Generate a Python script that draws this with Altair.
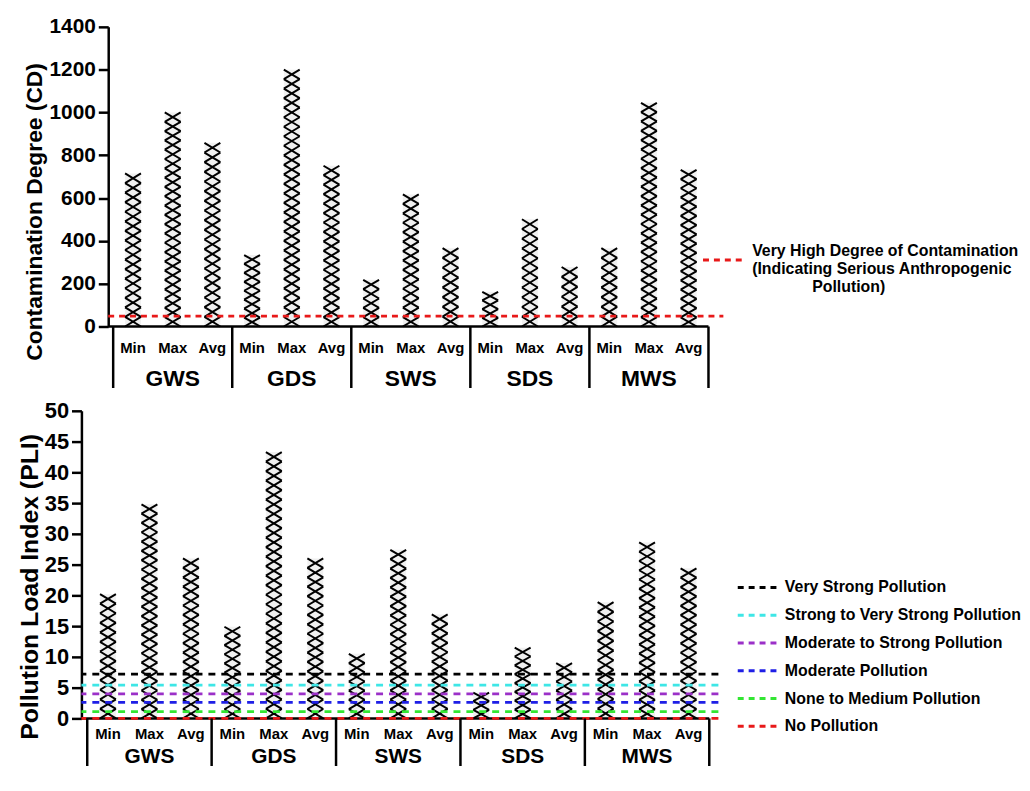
import altair as alt
import pandas as pd

FONT = "Liberation Sans"

# ---------------- data ----------------
groups = ["GWS", "GDS", "SWS", "SDS", "MWS"]
stats = ["Min", "Max", "Avg"]
cd_values = [715, 1000, 858, 334, 1200, 751, 218, 617, 366, 162, 501, 278, 366, 1045, 732]
pli_values = [20.2, 34.8, 26.0, 14.9, 43.3, 26.0, 10.5, 27.4, 16.9, 4.2, 11.5, 9.0, 18.9, 28.6, 24.4]

cd_line_label = ("Very High Degree of Contamination|(Indicating Serious Anthropogenic|"
                 + "\u2800" * 5 + "Pollution)")
cd_line_value = 48
cd_line_color = "#e81919"

pli_levels = ["Very Strong Pollution", "Strong to Very Strong Pollution",
              "Moderate to Strong Pollution", "Moderate Pollution",
              "None to Medium Pollution", "No Pollution"]
pli_level_values = [7.2, 5.4, 4.0, 2.6, 1.1, 0.0]
pli_level_colors = ["#000000", "#3ee6e6", "#9b30c8", "#1f1fe6", "#33e633", "#e81919"]


# ---------------- helpers ----------------
def bars_df(values):
    rows = []
    for g, grp in enumerate(groups):
        for s, st in enumerate(stats):
            i = 3 * g + s
            rows.append({"group": grp, "stat": st, "center": i + 0.5, "value": values[i]})
    return pd.DataFrame(rows)


def pattern_df(values, ymax, height, cell_target=9.5):
    px_per_unit = height / ymax
    rows = []
    for i, v in enumerate(values):
        bar_px = v * px_per_unit
        n = max(1, round(bar_px / cell_target))
        cell = v / n
        a = (bar_px / n) / 16.0
        path = f"M-1,{-a:.4f}L1,{a:.4f}M-1,{a:.4f}L1,{-a:.4f}"
        for k in range(n):
            rows.append({"center": i + 0.5, "y": (k + 0.5) * cell, "path": path})
    return pd.DataFrame(rows)


def panel(values, ymax, ystep, width, height, xmin, xmax, axis_slot, axis_offset,
          title, title_size, label_size, title_x, title_y, lines_layer,
          stat_dy, grp_dy, sep_len, grp_size):
    xscale = alt.Scale(domain=[xmin, xmax], nice=False, zero=False, padding=0)
    yscale = alt.Scale(domain=[0, ymax], nice=False, zero=True, padding=0)
    yaxis = alt.Axis(
        values=list(range(0, ymax + 1, ystep)), format="d", grid=False, offset=axis_offset,
        domainColor="black", domainWidth=2.5, tickColor="black", tickWidth=2.5, tickSize=10,
        labelFont=FONT, labelFontSize=label_size, labelFontWeight="bold", labelColor="black",
        labelPadding=3, labelOverlap=False,
        title=title, titleFont=FONT, titleFontSize=title_size, titleFontWeight="bold",
        titleColor="black", titleAngle=270, titleAlign="center", titleBaseline="middle",
        titleX=title_x, titleY=title_y,
    )
    bdf = bars_df(values)
    bars = alt.Chart(bdf).mark_bar(size=16, fill="#f0f0f0").encode(
        x=alt.X("center:Q", scale=xscale, axis=None),
        y=alt.Y("value:Q", scale=yscale, axis=yaxis),
    )
    pdf = pattern_df(values, ymax, height)
    pattern = alt.Chart(pdf).mark_point(filled=False, size=256, color="black",
                                        strokeWidth=2.0, opacity=1).encode(
        x=alt.X("center:Q", scale=xscale, axis=None),
        y=alt.Y("y:Q", scale=yscale, axis=yaxis),
        shape=alt.Shape("path:N", scale=None),
    )
    base_df = pd.DataFrame({"x0": [axis_slot], "x1": [15.0], "y": [0.0]})
    baseline = alt.Chart(base_df).mark_rule(color="black", strokeWidth=2.5).encode(
        x=alt.X("x0:Q", scale=xscale, axis=None), x2="x1:Q",
        y=alt.Y("y:Q", scale=yscale, axis=yaxis),
    )
    sep_df = pd.DataFrame({"b": [0, 3, 6, 9, 12, 15]})
    seps = alt.Chart(sep_df).mark_rule(color="black", strokeWidth=2.5).encode(
        x=alt.X("b:Q", scale=xscale, axis=None), y=alt.value(height), y2=alt.value(height + sep_len),
    )
    stat_text = alt.Chart(bdf).mark_text(font=FONT, fontSize=15, fontWeight="bold",
                                         color="black", baseline="middle").encode(
        x=alt.X("center:Q", scale=xscale, axis=None), y=alt.value(height + stat_dy), text="stat:N",
    )
    gdf = pd.DataFrame({"group": groups, "gc": [3 * g + 1.5 for g in range(len(groups))]})
    group_text = alt.Chart(gdf).mark_text(font=FONT, fontSize=grp_size, fontWeight="bold",
                                          color="black", baseline="middle").encode(
        x=alt.X("gc:Q", scale=xscale, axis=None), y=alt.value(height + grp_dy), text="group:N",
    )
    lines = lines_layer(xscale, yscale, yaxis)
    return alt.layer(bars, pattern, baseline, lines, seps, stat_text, group_text).properties(
        width=width, height=height)


def legend_common(x, y, offset):
    return dict(orient="none", legendX=x, legendY=y, title=None, symbolType="stroke",
                symbolDash=[6, 5], symbolSize=1521, symbolStrokeWidth=3,
                labelFont=FONT, labelFontSize=16, labelFontWeight="bold", labelColor="black",
                labelLimit=0, labelOffset=offset)


def cd_lines(xscale, yscale, yaxis):
    df = pd.DataFrame({"label": [cd_line_label], "v": [cd_line_value],
                       "x0": [-0.125], "x1": [15.375]})
    return alt.Chart(df).mark_rule(strokeDash=[6, 5], strokeWidth=2.8).encode(
        x=alt.X("x0:Q", scale=xscale, axis=None), x2="x1:Q",
        y=alt.Y("v:Q", scale=yscale, axis=yaxis),
        color=alt.Color("label:N",
                        scale=alt.Scale(domain=[cd_line_label], range=[cd_line_color]),
                        legend=alt.Legend(labelExpr="split(datum.label, '|')",
                                          labelBaseline="line-bottom",
                                          **legend_common(625, 214, 9))),
    )


def pli_lines(xscale, yscale, yaxis):
    df = pd.DataFrame({"level": pli_levels, "v": pli_level_values})
    return alt.Chart(df).mark_rule(strokeDash=[7, 6], strokeWidth=2.8).encode(
        y=alt.Y("v:Q", scale=yscale, axis=yaxis),
        color=alt.Color("level:N",
                        scale=alt.Scale(domain=pli_levels, range=pli_level_colors),
                        sort=pli_levels,
                        legend=alt.Legend(rowPadding=10, clipHeight=18,
                                          **legend_common(660, 169, 7))),
    )


top = panel(cd_values, 1400, 200, 648, 302, -0.8, 15.4, -0.125, -27,
            "Contamination Degree (CD)", 23, 21, -74, 186, cd_lines, 22, 53, 62, 23)
bottom = panel(pli_values, 50, 5, 642, 310, -0.14, 15.22, -0.14, 0,
               "Pollution Load Index (PLI)", 25, 22, -52, 177, pli_lines, 16, 39, 48, 21)

chart = alt.vconcat(top, bottom, spacing=85, bounds="flush").resolve_scale(
    color="independent", x="independent", y="independent", shape="independent"
).configure_view(stroke=None).properties(
    padding={"left": 9, "top": 5, "right": 0, "bottom": 0}, background="white")

chart.save("out.html", embed_options={"renderer": "svg", "actions": False})
